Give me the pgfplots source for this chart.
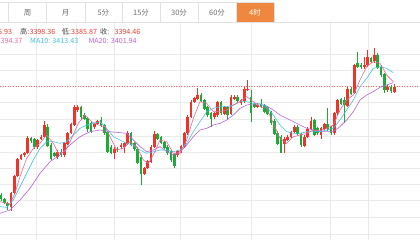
\documentclass[border=0pt]{standalone}
\usepackage{pgfplots}
\pgfplotsset{compat=1.18}
\usepackage{pgfplotstable}
\usepackage{fontspec}
\setmainfont{Noto Sans CJK SC}
\definecolor{cred}{RGB}{238,52,42}
\definecolor{cgreen}{RGB}{30,170,55}
\definecolor{ma5}{RGB}{235,105,150}
\definecolor{ma10}{RGB}{70,195,220}
\definecolor{ma20}{RGB}{185,100,215}
\definecolor{gridc}{RGB}{234,234,234}
\definecolor{tabc}{RGB}{225,225,225}
\definecolor{orangetab}{RGB}{240,135,65}
\definecolor{txtgray}{RGB}{110,110,110}
\definecolor{lblgray}{RGB}{70,70,70}
\definecolor{valred}{RGB}{232,60,50}
\definecolor{priceline}{RGB}{240,110,100}

\pgfplotstableread{
x o c h l
33 620 578 575 632
43 578 528 525 582
53 528 478 475 532
63 476 466 462 480
73 466 458 455 470
83 460 415 408 462
113 442 420 417 446
123 418 410 405 420
133 410 374 364 412
173 470 455 450 478
193 466 430 426 470
203 432 400 396 436
213 398 372 368 402
223 374 322 315 378
233 330 320 316 336
283 382 372 368 386
293 372 364 360 376
343 460 446 442 476
363 442 436 430 446
373 440 430 425 460
383 432 398 394 436
433 522 505 500 526
443 505 484 480 508
453 486 440 436 490
463 440 402 392 444
533 466 454 450 470
543 454 438 434 458
553 440 400 396 444
563 400 350 346 404
573 350 305 300 354
583 306 294 290 310
593 296 284 264 300
643 350 340 335 356
653 345 306 302 350
673 342 322 318 346
693 342 290 286 346
703 296 290 285 300
723 310 300 296 314
733 304 266 260 308
743 270 266 240 274
773 320 314 310 324
853 432 416 412 460
863 420 410 405 424
873 410 396 392 414
883 396 380 375 400
913 438 410 406 442
923 410 386 382 414
933 386 364 350 390
963 404 384 380 416
973 386 372 368 390
1003 400 340 336 404
1013 340 300 296 344
1043 318 266 262 322
1063 278 196 192 282
1093 202 194 170 206
1103 196 172 150 200
1123 184 166 145 188
1163 270 260 255 276
1183 276 260 252 280
}\redc

\pgfplotstableread{
x o c h l
3 585 598 580 602
13 598 608 594 612
23 610 618 605 630
93 414 424 410 428
103 418 442 414 446
143 380 438 372 442
153 436 476 430 480
163 458 468 455 472
183 455 465 448 470
243 322 350 318 360
253 345 356 338 360
263 355 388 350 395
273 368 395 364 398
303 360 378 350 382
313 376 400 372 404
323 396 455 392 460
333 440 458 436 462
353 446 450 442 456
393 400 434 396 438
403 430 448 426 452
413 446 488 440 492
423 470 522 466 555
473 402 416 398 420
483 412 428 408 432
493 426 444 422 448
503 440 460 436 466
513 454 480 450 486
523 462 497 458 505
603 284 302 280 306
613 300 326 296 330
623 322 345 318 350
633 340 358 336 380
663 306 340 302 345
683 322 346 318 360
713 290 304 286 308
753 290 340 270 366
763 312 320 308 324
783 312 320 298 324
793 316 336 312 340
803 322 342 318 346
813 336 370 332 374
823 362 402 358 406
833 398 432 394 436
843 410 458 406 460
893 380 402 376 406
903 402 436 398 440
943 360 404 356 408
953 384 400 380 404
983 372 386 325 392
993 382 400 378 404
1023 298 312 294 316
1033 300 316 290 370
1053 266 282 262 286
1073 190 200 155 204
1083 194 202 188 206
1113 174 186 170 190
1133 164 204 158 208
1143 200 226 196 230
1153 222 270 218 280
1173 260 274 256 280
}\greenc

\begin{document}
\begin{tikzpicture}
\fill[white] (0,0) rectangle (420bp,240bp);
\useasboundingbox (0,0) rectangle (420bp,240bp);
\begin{axis}[at={(0,0)}, anchor=south west, scale only axis,
  width=420bp, height=240bp, xmin=0, xmax=1260, ymin=0, ymax=720,
  y dir=reverse, axis lines=none, ticks=none, clip=false]

% grid
\pgfplotsinvokeforeach{162,212,258,308,358,408,458,506,554,602,652,702}{
  \draw[gridc, line width=0.5bp] (axis cs:0,#1) -- (axis cs:1260,#1);}
\pgfplotsinvokeforeach{110,228,343,540,755,990,1105}{
  \draw[gridc, line width=0.5bp] (axis cs:#1,66) -- (axis cs:#1,720);}

% tab bar
\draw[tabc, line width=0.5bp] (axis cs:0,8) -- (axis cs:822,8);
\draw[tabc, line width=0.5bp] (axis cs:0,66) -- (axis cs:1260,66);
\pgfplotsinvokeforeach{25,140,255,368,482,596,710,822}{
  \draw[tabc, line width=0.5bp] (axis cs:#1,8) -- (axis cs:#1,66);}
\fill[orangetab] (axis cs:710,8) rectangle (axis cs:822,66);
\begin{scope}[every node/.style={font=\fontsize{7.5}{8}\selectfont, inner sep=0pt}]
\node[txtgray] at (axis cs:83,38) {周};
\node[txtgray] at (axis cs:197,38) {月};
\node[txtgray] at (axis cs:310,38) {5分};
\node[txtgray] at (axis cs:423,38) {15分};
\node[txtgray] at (axis cs:537,38) {30分};
\node[txtgray] at (axis cs:651,38) {60分};
\node[white] at (axis cs:765,38) {4时};
\end{scope}

% info lines
\begin{scope}[every node/.style={font=\fontsize{7.2}{8}\selectfont, inner sep=0pt}]
\node[anchor=base east, valred] at (axis cs:37,102) {3385.93};
\node[anchor=base west, lblgray] at (axis cs:60,102) {高:};
\node[anchor=base west, valred] at (axis cs:88,102) {3398.36};
\node[anchor=base west, lblgray] at (axis cs:185,102) {低:};
\node[anchor=base west, valred] at (axis cs:213,102) {3385.87};
\node[anchor=base west, lblgray] at (axis cs:300,102) {收:};
\node[anchor=base west, valred] at (axis cs:343,102) {3394.46};
\node[anchor=base east, ma5] at (axis cs:68,131) {MA5: 3394.37};
\node[anchor=base west, ma10] at (axis cs:90,131) {MA10: 3413.43};
\node[anchor=base west, ma20] at (axis cs:265,131) {MA20: 3401.94};
\end{scope}

% current price line
\draw[priceline, dotted, line width=0.6bp] (axis cs:0,258) -- (axis cs:1260,258);

% wicks
\addplot[draw=none, mark=none, forget plot, error bars/.cd, y dir=plus, y explicit,
  error mark=none, error bar style={draw=cred, line width=0.6bp}]
  table[x=x, y=h, y error plus expr=\thisrow{l}-\thisrow{h}] {\redc};
\addplot[draw=none, mark=none, forget plot, error bars/.cd, y dir=plus, y explicit,
  error mark=none, error bar style={draw=cgreen, line width=0.6bp}]
  table[x=x, y=h, y error plus expr=\thisrow{l}-\thisrow{h}] {\greenc};
% bodies
\addplot[draw=none, mark=none, forget plot, error bars/.cd, y dir=plus, y explicit,
  error mark=none, error bar style={draw=cred, line width=2.5bp}]
  table[x=x, y=c, y error plus expr=\thisrow{o}-\thisrow{c}] {\redc};
\addplot[draw=none, mark=none, forget plot, error bars/.cd, y dir=plus, y explicit,
  error mark=none, error bar style={draw=cgreen, line width=2.5bp}]
  table[x=x, y=o, y error plus expr=\thisrow{c}-\thisrow{o}] {\greenc};

% moving averages
\addplot[ma20, line width=0.6bp, mark=none] coordinates {
(0,640)(30,630)(60,600)(90,565)(120,520)(150,485)(180,465)(210,435)(240,410)(270,395)(300,390)(330,395)(360,398)(380,400)(400,420)(420,440)(440,455)(460,450)(480,440)(500,455)(520,465)(540,455)(560,435)(580,410)(600,390)(620,385)(640,375)(660,370)(680,360)(700,345)(720,325)(740,315)(760,312)(780,312)(800,318)(820,330)(840,345)(860,355)(880,365)(900,375)(920,385)(940,390)(960,395)(980,395)(1000,395)(1020,380)(1040,360)(1060,335)(1080,300)(1100,285)(1120,275)(1140,262)(1160,255)(1180,248)};
\addplot[ma10, line width=0.6bp, mark=none] coordinates {
(0,620)(20,622)(40,600)(60,560)(80,520)(100,480)(120,445)(140,425)(160,425)(180,430)(200,425)(220,405)(240,385)(260,375)(280,370)(300,365)(320,385)(340,410)(360,420)(380,430)(400,435)(420,450)(440,460)(460,455)(480,450)(500,450)(520,455)(540,450)(560,430)(580,395)(600,365)(620,335)(640,325)(660,320)(680,320)(700,315)(720,305)(740,305)(760,310)(780,312)(800,320)(820,345)(840,375)(860,395)(880,400)(900,400)(920,395)(940,395)(960,395)(980,390)(1000,385)(1020,360)(1040,330)(1060,300)(1080,260)(1100,235)(1120,205)(1140,200)(1160,205)(1180,218)};
\addplot[ma5, line width=0.6bp, mark=none] coordinates {
(0,605)(30,612)(45,580)(60,530)(80,475)(100,445)(120,430)(140,405)(160,430)(175,460)(195,455)(215,415)(235,370)(255,345)(275,365)(295,375)(315,380)(335,420)(350,450)(370,445)(390,425)(410,440)(430,480)(445,490)(465,455)(480,420)(500,425)(520,460)(540,460)(560,420)(580,355)(600,305)(620,310)(640,335)(660,335)(680,330)(700,315)(720,305)(740,290)(760,305)(780,320)(800,325)(820,370)(840,415)(860,430)(880,410)(900,405)(920,400)(940,390)(960,392)(980,385)(1000,375)(1020,330)(1040,300)(1060,285)(1080,240)(1100,200)(1120,185)(1140,190)(1160,225)(1180,245)};
\end{axis}
\end{tikzpicture}
\end{document}
